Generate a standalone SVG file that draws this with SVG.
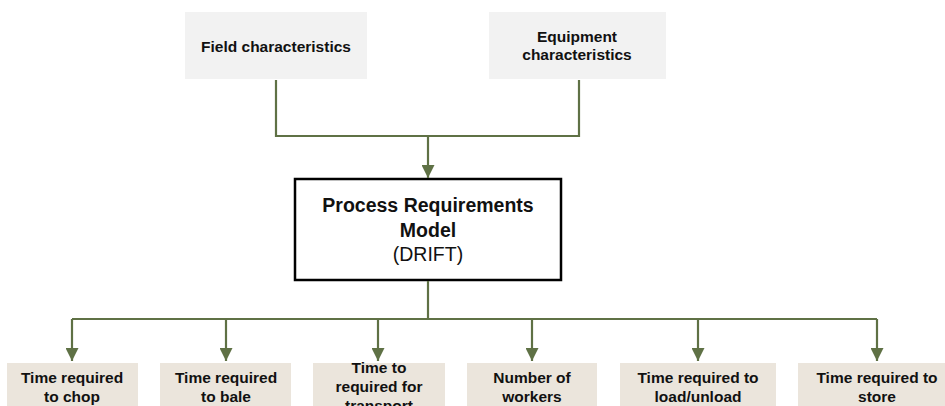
<svg xmlns="http://www.w3.org/2000/svg" width="945" height="406" viewBox="0 0 945 406">
  <style>
    .in { fill: #f2f2f2; }
    .out { fill: #ebe5dc; }
    .model { fill: #ffffff; stroke: #000000; stroke-width: 2.5; }
    .t { font-family: "Liberation Sans", Arial, sans-serif; font-weight: bold; fill: #111111; text-anchor: middle; }
    .s14 { font-size: 15.5px; }
    .s15 { font-size: 15.5px; }
    .s19 { font-size: 19.5px; }
    .reg { font-weight: normal; }
    .wire { fill: none; stroke: #5f7145; stroke-width: 2.2; }
  </style>
  <defs>
    <marker id="arrow" markerUnits="userSpaceOnUse" markerWidth="14" markerHeight="13" refX="13" refY="6.5" orient="auto">
      <path d="M0,0 L13,6.5 L0,13 Z" fill="#5f7145"/>
    </marker>
  </defs>

  <rect width="945" height="406" fill="#ffffff"/>

  <!-- inputs -->
  <g id="field">
    <rect class="in" x="185" y="12" width="182" height="67"/>
    <text class="t s14" x="276" y="52">Field characteristics</text>
  </g>
  <g id="equipment">
    <rect class="in" x="489" y="12" width="177" height="67"/>
    <text class="t s14" x="577" y="42">Equipment</text>
    <text class="t s14" x="577" y="60">characteristics</text>
  </g>

  <!-- model -->
  <g id="model">
    <rect class="model" x="295" y="179" width="266" height="101"/>
    <text class="t s19" x="428" y="212">Process Requirements</text>
    <text class="t s19" x="428" y="237">Model</text>
    <text class="t s19 reg" x="428" y="261">(DRIFT)</text>
  </g>

  <!-- outputs (bottom row runs past the lower edge) -->
  <g id="chop">
    <rect class="out" x="7" y="363" width="131" height="50"/>
    <text class="t s15" x="72" y="383">Time required</text>
    <text class="t s15" x="72" y="402">to chop</text>
  </g>
  <g id="bale">
    <rect class="out" x="160" y="363" width="131" height="50"/>
    <text class="t s15" x="226" y="383">Time required</text>
    <text class="t s15" x="226" y="402">to bale</text>
  </g>
  <g id="transport">
    <rect class="out" x="313" y="363" width="132" height="50"/>
    <text class="t s15" x="379" y="373">Time to</text>
    <text class="t s15" x="379" y="392">required for</text>
    <text class="t s15" x="379" y="411">transport</text>
  </g>
  <g id="workers">
    <rect class="out" x="467" y="363" width="130" height="50"/>
    <text class="t s15" x="532" y="383">Number of</text>
    <text class="t s15" x="532" y="402">workers</text>
  </g>
  <g id="loading">
    <rect class="out" x="620" y="363" width="156" height="50"/>
    <text class="t s15" x="698" y="383">Time required to</text>
    <text class="t s15" x="698" y="402">load/unload</text>
  </g>
  <g id="storage">
    <rect class="out" x="798" y="363" width="150" height="50"/>
    <text class="t s15" x="877" y="383">Time required to</text>
    <text class="t s15" x="877" y="402">store</text>
  </g>

  <!-- connectors -->
  <g id="connectors">
    <path class="wire" d="M276,80 V136 H579 V80"/>
    <path class="wire" d="M428,136 V178" marker-end="url(#arrow)"/>
    <path class="wire" d="M428,281 V319"/>
    <path class="wire" d="M72,319 H877"/>
    <path class="wire" d="M72,319 V361" marker-end="url(#arrow)"/>
    <path class="wire" d="M226,319 V361" marker-end="url(#arrow)"/>
    <path class="wire" d="M378,319 V361" marker-end="url(#arrow)"/>
    <path class="wire" d="M532,319 V361" marker-end="url(#arrow)"/>
    <path class="wire" d="M698,319 V361" marker-end="url(#arrow)"/>
    <path class="wire" d="M877,319 V361" marker-end="url(#arrow)"/>
  </g>
</svg>
